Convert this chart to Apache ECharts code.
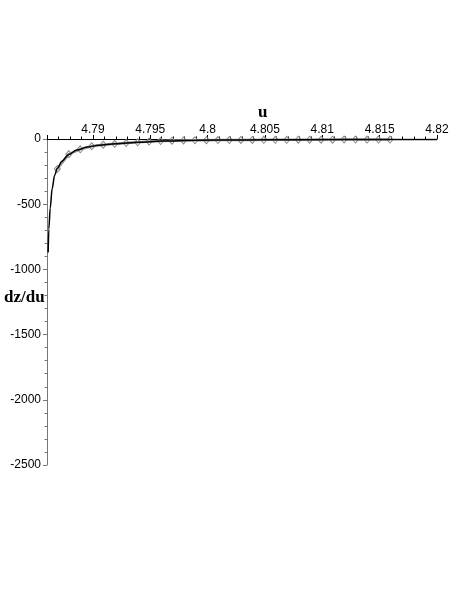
<!DOCTYPE html>
<html>
<head>
<meta charset="utf-8">
<script src="https://cdn.jsdelivr.net/npm/echarts@6/dist/echarts.min.js"></script>
<style>
html,body{margin:0;padding:0;background:#fff;}
#echarts{width:457px;height:591px;}
</style>
</head>
<body>
<div id="echarts"></div>
<script>
// black curve (u, dz/du)
var curveU=[4.7861,4.78616,4.78628,4.78645,4.78666,4.7869,4.7873,4.7879,4.7886,4.7895,4.7905,4.7920,4.7940,4.7960,4.7990,4.8030,4.8080,4.8130,4.8200];
var curveV=[-870,-690,-530,-380,-280,-225,-170,-118,-85,-62,-47,-36,-25,-16,-10,-7,-5,-4,-3];
// grey points (diamonds)
var pointU=[4.7869,4.7879,4.7889,4.7899,4.7909,4.7919,4.7929,4.7939,4.7949,4.7959,
            4.7969,4.7979,4.7989,4.7999,4.8009,4.8019,4.8029,4.8039,4.8049,4.8059,
            4.8069,4.8079,4.8089,4.8099,4.8109,4.8119,4.8129,4.8139,4.8149,4.8159];
var pointV=[-230,-116,-79,-56,-44,-37,-31,-25,-20,-16,
            -13,-11,-10,-9,-8,-8,-7,-7,-6,-6,
            -6,-5,-5,-5,-5,-4,-4,-4,-4,-4];
var uMin=4.786, uMax=4.82;
var yTicks=[-2500,-2000,-1500,-1000,-500,0];

function pairs(xs,ys){
    var out=[];
    for(var i=0;i<xs.length;i++){out.push([xs[i],ys[i]]);}
    return out;
}

var myChart=echarts.init(document.getElementById('echarts'));
var sans='"Liberation Sans", Arial, sans-serif';
var serif='"Liberation Serif", "Times New Roman", serif';
var option={
    animation:false,
    grid:{left:47,right:20,top:139,bottom:126,containLabel:false},
    xAxis:{
        type:'value',
        position:'top',
        min:uMin,
        max:uMax,
        splitNumber:7,
        axisLine:{lineStyle:{color:'#000',width:1}},
        axisTick:{length:4,lineStyle:{color:'#000'}},
        minorTick:{show:true,splitNumber:5,length:2.5,lineStyle:{color:'#000'}},
        splitLine:{show:false},
        axisLabel:{
            margin:3,
            color:'#000',
            fontSize:12,
            fontFamily:sans,
            showMinLabel:false,
            formatter:function(v){
                if(Math.abs(v-uMin)<1e-9){return '';}
                return String(+v.toFixed(3));
            }
        }
    },
    yAxis:{
        type:'value',
        min:yTicks[0],
        max:yTicks[yTicks.length-1],
        interval:500,
        axisLine:{lineStyle:{color:'#777',width:1}},
        axisTick:{length:4,lineStyle:{color:'#777'}},
        minorTick:{show:true,splitNumber:5,length:2.5,lineStyle:{color:'#777'}},
        splitLine:{show:false},
        axisLabel:{
            margin:6,color:'#000',fontSize:12,fontFamily:sans,
            formatter:function(v){return String(v);}//no thousands comma
        }
    },
    graphic:[
        {type:'text',left:258,top:104,style:{text:'u',font:'bold 17px '+serif,fill:'#000'}},
        {type:'text',left:4,top:289,style:{text:'dz/du',font:'bold 17px '+serif,fill:'#000'}}
    ],
    series:[
        {
            name:'points',
            type:'line',
            z:2,
            data:pairs(pointU,pointV),
            symbol:'diamond',
            symbolSize:[6,7],
            showSymbol:true,
            lineStyle:{color:'#999',width:2.5},
            itemStyle:{color:'rgba(255,255,255,0)',borderColor:'#888',borderWidth:1}
        },
        {
            name:'curve',
            type:'line',
            z:3,
            data:pairs(curveU,curveV),
            smooth:0.3,
            smoothMonotone:'x',
            showSymbol:false,
            symbol:'none',
            lineStyle:{color:'#000',width:1.5}
        }
    ]
};
myChart.setOption(option);
</script>
</body>
</html>
